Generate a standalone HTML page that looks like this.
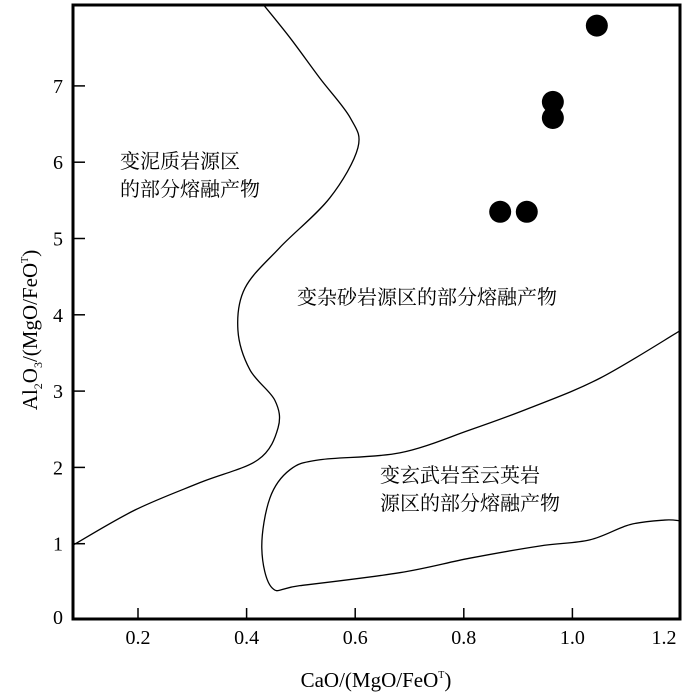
<!DOCTYPE html>
<html><head><meta charset="utf-8"><style>
body{margin:0;background:#fff}
svg{display:block;font-family:"Liberation Serif","Noto Serif CJK SC",serif}
</style></head><body>
<svg width="700" height="700" viewBox="0 0 700 700">
<g id="marks"></g>
</svg>
<script>
const xTicks=[0.2,0.4,0.6,0.8,1.0,1.2];
const xTickLabels=["0.2","0.4","0.6","0.8","1.0","1.2"];
const yTicks=[0,1,2,3,4,5,6,7];
const yTickLabels=["0","1","2","3","4","5","6","7"];
const ptX=[0.867,0.916,0.964,0.964,1.045];
const ptY=[5.35,5.35,6.79,6.58,7.79];
const curve1X=[0.08,0.194,0.314,0.421,0.458,0.452,0.406,0.384,0.397,0.461,0.553,0.605,0.591,0.535,0.48,0.428];
const curve1Y=[0.98,1.44,1.80,2.10,2.52,2.88,3.28,3.80,4.35,4.88,5.53,6.19,6.58,7.10,7.63,8.09];
const curve2X=[1.198,1.051,0.922,0.811,0.682,0.535,0.48,0.443,0.428,0.447,0.498,0.682,0.811,0.94,1.032,1.106,1.17,1.198];
const curve2Y=[3.79,3.17,2.78,2.49,2.19,2.10,1.97,1.60,0.94,0.42,0.45,0.62,0.81,0.97,1.05,1.25,1.31,1.30];
const L=73,R=680,T=5,B=619;
const sx=v=>29.4+v*543;
const sy=v=>620-v*76.3;
const NS="http://www.w3.org/2000/svg";
const g=document.getElementById('marks');
function mk(tag,attrs,parent){const e=document.createElementNS(NS,tag);for(const k in attrs)e.setAttribute(k,attrs[k]);(parent||g).appendChild(e);return e;}
function smooth(xs,ys){const p=xs.map((x,i)=>[sx(x),sy(ys[i])]);let d=`M${p[0][0]},${p[0][1]}`;
for(let i=0;i<p.length-1;i++){const p0=p[i-1]||p[i],p1=p[i],p2=p[i+1],p3=p[i+2]||p2;
d+=` C${p1[0]+(p2[0]-p0[0])/6},${p1[1]+(p2[1]-p0[1])/6} ${p2[0]-(p3[0]-p1[0])/6},${p2[1]-(p3[1]-p1[1])/6} ${p2[0]},${p2[1]}`;}return d;}
const cp=mk('clipPath',{id:'clip'});mk('rect',{x:L,y:T,width:R-L,height:B-T},cp);
const c1=mk('path',{d:smooth(curve1X,curve1Y),fill:'none',stroke:'#000','stroke-width':1.3,'clip-path':'url(#clip)'});


const c2=mk('path',{d:smooth(curve2X,curve2Y),fill:'none',stroke:'#000','stroke-width':1.3,'clip-path':'url(#clip)'});


const frame=mk('rect',{x:L,y:T,width:R-L,height:B-T,fill:'none',stroke:'#000','stroke-width':3});


xTicks.forEach((v,i)=>{const x=sx(v);
 if(v<1.19){const t=mk('line',{x1:x,x2:x,y1:B,y2:B-11,stroke:'#000','stroke-width':1.5});
 
 }
 const tx=mk('text',{x:Math.min(x,664),y:B+25,'font-size':20,'text-anchor':'middle'});tx.textContent=xTickLabels[i];
 
 });
yTicks.forEach((v,i)=>{const y=sy(v);
 if(v>0){const t=mk('line',{x1:L,x2:L+12,y1:y,y2:y,stroke:'#000','stroke-width':1.5});
 
 }
 const tx=mk('text',{x:58,y:(v===0?B-2:y)+7,'font-size':20,'text-anchor':'middle'});tx.textContent=yTickLabels[i];
 
 });
ptX.forEach((v,i)=>{const c=mk('circle',{cx:sx(v),cy:sy(ptY[i]),r:11,fill:'#000'});
 
 });
function lbl(x,y,s,name,size,anchor){const t=mk('text',{x:x,y:y,'font-size':size||20,'text-anchor':anchor||'start'});t.innerHTML=s;
 
 return t;}
lbl(120,168,'变泥质岩源区','region-label-metapelite-1');
lbl(120,196,'的部分熔融产物','region-label-metapelite-2');
lbl(297,304,'变杂砂岩源区的部分熔融产物','region-label-metagreywacke');
lbl(380,482,'变玄武岩至云英岩','region-label-metabasalt-1');
lbl(380,510,'源区的部分熔融产物','region-label-metabasalt-2');
lbl(376,687,'CaO/(MgO/FeO<tspan font-size="10" dy="-9">T</tspan><tspan dy="9">)</tspan>','x-axis-title',21,'middle');
const yt=lbl(0,0,'Al<tspan font-size="12" dy="5">2</tspan><tspan dy="-5">O</tspan><tspan font-size="12" dy="5">3</tspan><tspan dy="-5">/(MgO/FeO</tspan><tspan font-size="10" dy="-9">T</tspan><tspan dy="9">)</tspan>','y-axis-title',21,'middle');
yt.setAttribute('transform','translate(37,330) rotate(-90)');
</script>
</body></html>
